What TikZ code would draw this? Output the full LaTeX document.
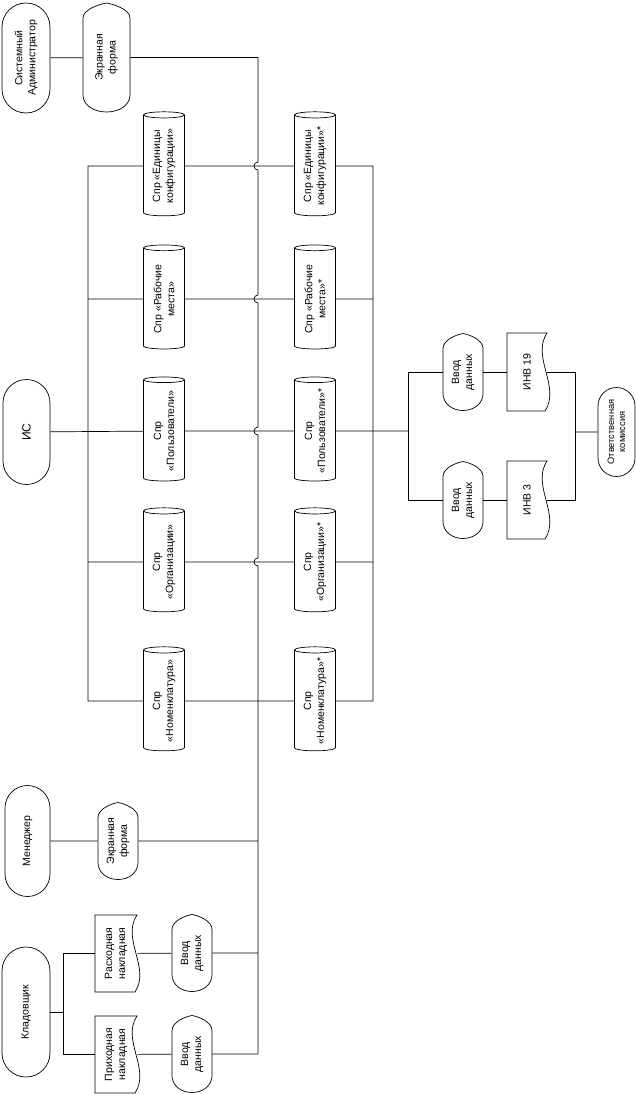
\documentclass[tikz,border=0pt]{standalone}
\usepackage{fontspec}
\setmainfont{Liberation Sans}
\usetikzlibrary{shapes.geometric, shapes.misc, calc}

% outline of a display box round a named node (half width, half height)
\newcommand{\dispout}[3]{%
  \begin{scope}[shift={(#1.center)}]
    \draw (-#2,-#3+15) .. controls (-#2,-#3+6) and (-6,-#3+1) .. (0,-#3)
      .. controls (6,-#3+1) and (#2,-#3+6) .. (#2,-#3+15)
      -- (#2,#3-17) .. controls (#2,#3-7) and (0.55*#2,#3) .. (0,#3)
      .. controls (-0.55*#2,#3) and (-#2,#3-7) .. (-#2,#3-17) -- cycle;
  \end{scope}}
% outline of a document box with a wavy right side
\newcommand{\docout}[3]{%
  \begin{scope}[shift={(#1.center)}]
    \draw (-#2,-#3) -- (#2,-#3) .. controls (#2-16,-#3+24) and (#2+14,#3-24) .. (#2-2,#3)
      -- (-#2,#3) -- cycle;
  \end{scope}}

\begin{document}
\begin{tikzpicture}[
    x=1pt, y=-1pt,
    line width=0.7pt,
    every node/.style={font=\fontsize{10.5}{13}\selectfont, align=center, inner sep=1pt},
    term/.style={rounded rectangle, draw, rotate=90},
    spr/.style={cylinder, draw, rotate=90, aspect=0.25, minimum width=41pt, minimum height=104pt},
    disp/.style={rotate=90, minimum width=77pt, minimum height=40pt},
    doc/.style={rotate=90, minimum width=78pt, minimum height=40pt}
]
\useasboundingbox (0,0) rectangle (636,1095);

% --- Bus lines ---
\coordinate (kbus2) at (63,0);
\coordinate (lbus) at (88,0);
\coordinate (mbus) at (258,0);
\coordinate (rbus) at (373,0);
\coordinate (gbus) at (408,0);
\coordinate (kbus) at (575,0);

% --- Actors ---
\node[term, minimum width=112pt, minimum height=48pt] (admin) at (26,58) {Системный\\Администратор};
\node[term, minimum width=107pt, minimum height=47pt, font=\fontsize{12}{14}\selectfont] (is) at (26.5,432) {ИС};
\node[term, minimum width=113pt, minimum height=45pt] (men) at (27.5,841) {Менеджер};
\node[term, minimum width=132pt, minimum height=48pt] (klad) at (26,1012) {Кладовщик};
\node[term, minimum width=91pt, minimum height=37pt, font=\fontsize{9.3}{11}\selectfont] (kom) at (616.5,432) {Ответственная\\комиссия};

% --- Screen forms and data entry ---
\node[disp, minimum width=109pt, minimum height=47pt] (scr1) at (106.5,57.5) {Экранная\\форма};
\dispout{scr1}{23.5}{54.5}
\node[disp] (scr2) at (118,841) {Экранная\\форма};
\dispout{scr2}{20}{38.5}
\node[disp] (vvod1) at (463,372) {Ввод\\данных};
\dispout{vvod1}{20}{38.5}
\node[disp] (vvod2) at (463,500) {Ввод\\данных};
\dispout{vvod2}{20}{38.5}
\node[disp] (vvod3) at (192,953) {Ввод\\данных};
\dispout{vvod3}{20}{38.5}
\node[disp] (vvod4) at (192,1054) {Ввод\\данных};
\dispout{vvod4}{20}{38.5}

% --- Documents ---
\node[doc] (inv19) at (527,372) {ИНВ 19};
\docout{inv19}{20}{39}
\node[doc] (inv3) at (527,500) {ИНВ 3};
\docout{inv3}{20}{39}
\node[doc, minimum height=42pt, minimum width=77pt] (rashod) at (116,953.5) {Расходная\\накладная};
\docout{rashod}{21}{38.5}
\node[doc, minimum height=42pt, minimum width=77pt] (prihod) at (116,1054.5) {Приходная\\накладная};
\docout{prihod}{21}{38.5}

% --- Reference books ---
\node[spr] (sprEK) at (164,166) {Спр «Единицы\\конфигурации»};
\node[spr] (sprRM) at (164,299) {Спр «Рабочие\\места»};
\node[spr] (sprPol) at (164,431) {Спр\\«Пользователи»};
\node[spr] (sprOrg) at (164,562) {Спр\\«Организации»};
\node[spr] (sprNom) at (164,701) {Спр\\«Номенклатура»};
\node[spr] (sprEKx) at (315,166) {Спр «Единицы\\конфигурации»*};
\node[spr] (sprRMx) at (315,299) {Спр «Рабочие\\места»*};
\node[spr] (sprPolx) at (315,431) {Спр\\«Пользователи»*};
\node[spr] (sprOrgx) at (315,562) {Спр\\«Организации»*};
\node[spr] (sprNomx) at (315,701) {Спр\\«Номенклатура»*};

% --- Connections ---
\draw (admin) -- (scr1);
\draw (scr1) -- (scr1 -| mbus)
  foreach \c in {sprEK,sprRM,sprPol,sprOrg} {
    -- ($(\c -| mbus)+(0,-4)$) arc[start angle=90, end angle=270, radius=4pt]
  } -- (vvod4 -| mbus);

\draw (sprEK) -| (lbus |- sprNom) -- (sprNom);
\draw (sprRM) -- (sprRM -| lbus);
\draw (sprOrg) -- (sprOrg -| lbus);
\draw (is) -- (sprPol);

\draw (sprEK) -- (sprEKx);
\draw (sprRM) -- (sprRMx);
\draw (sprPol) -- (sprPolx);
\draw (sprOrg) -- (sprOrgx);
\draw (sprNom) -- (sprNomx);

\draw (sprEKx) -| (rbus |- sprNomx) -- (sprNomx);
\draw (sprRMx) -- (sprRMx -| rbus);
\draw (sprOrgx) -- (sprOrgx -| rbus);
\draw (sprPolx) -- (sprPolx -| gbus);

\draw (vvod1) -| (gbus |- vvod2) -- (vvod2);
\draw (vvod1) -- (inv19);
\draw (vvod2) -- (inv3);
\draw (inv19) -| (kbus |- inv3) -- (inv3);
\draw (kom) -- (kom -| kbus);

\draw (men) -- (scr2) -- (scr2 -| mbus);
\draw (klad) -- (klad -| kbus2);
\draw (rashod) -| (kbus2 |- prihod) -- (prihod);
\draw (rashod) -- (vvod3) -- (vvod3 -| mbus);
\draw (prihod) -- (vvod4) -- (vvod4 -| mbus);

\end{tikzpicture}
\end{document}
